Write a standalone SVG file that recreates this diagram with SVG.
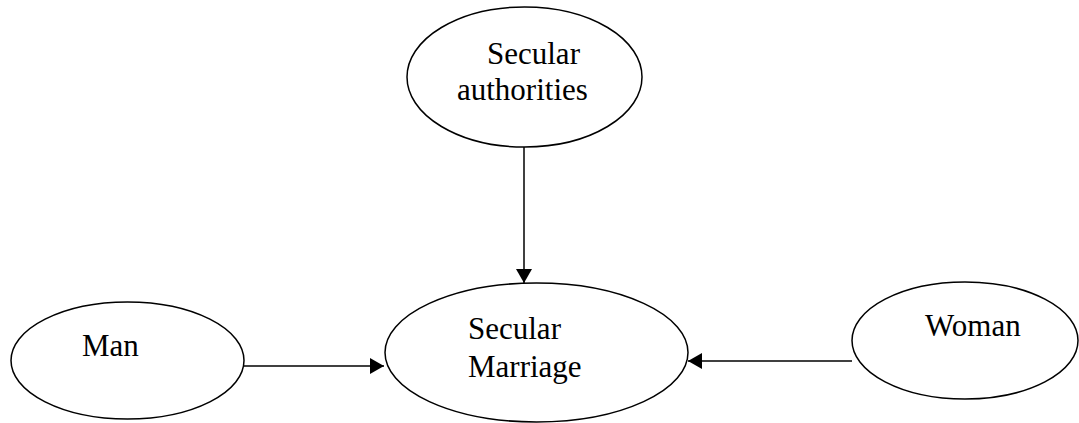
<svg xmlns="http://www.w3.org/2000/svg" width="1079" height="423" viewBox="0 0 1079 423">
  <style>
    .node ellipse { fill: #ffffff; stroke: #000000; stroke-width: 1.5; }
    .node text { font-family: "Liberation Serif", "Times New Roman", serif; font-size: 31px; fill: #000000; }
    .edge { stroke: #000000; stroke-width: 1.5; fill: none; marker-end: url(#arrow); }
  </style>
  <defs>
    <marker id="arrow" markerUnits="userSpaceOnUse" markerWidth="14" markerHeight="16" viewBox="0 0 14 16" refX="14" refY="8" orient="auto">
      <path d="M0,0 L14,8 L0,16 Z" fill="#000000"/>
    </marker>
  </defs>
  <rect width="1079" height="423" fill="#ffffff"/>
  <g id="connectors">
    <line class="edge" x1="524" y1="147" x2="524" y2="283"/>
    <line class="edge" x1="244" y1="366" x2="384" y2="366"/>
    <line class="edge" x1="852" y1="361" x2="688" y2="361"/>
  </g>
  <g id="node-secular-authorities" class="node">
    <ellipse cx="524.5" cy="77" rx="117.5" ry="70"/>
    <text x="487" y="64">Secular</text>
    <text x="457" y="100">authorities</text>
  </g>
  <g id="node-man" class="node">
    <ellipse cx="127.5" cy="360.5" rx="116.5" ry="58.5"/>
    <text x="82" y="356">Man</text>
  </g>
  <g id="node-secular-marriage" class="node">
    <ellipse cx="536.5" cy="352.5" rx="151.5" ry="69.5"/>
    <text x="468" y="339">Secular</text>
    <text x="468" y="377">Marriage</text>
  </g>
  <g id="node-woman" class="node">
    <ellipse cx="965" cy="340.5" rx="113" ry="58.5"/>
    <text x="925" y="336">Woman</text>
  </g>
</svg>
